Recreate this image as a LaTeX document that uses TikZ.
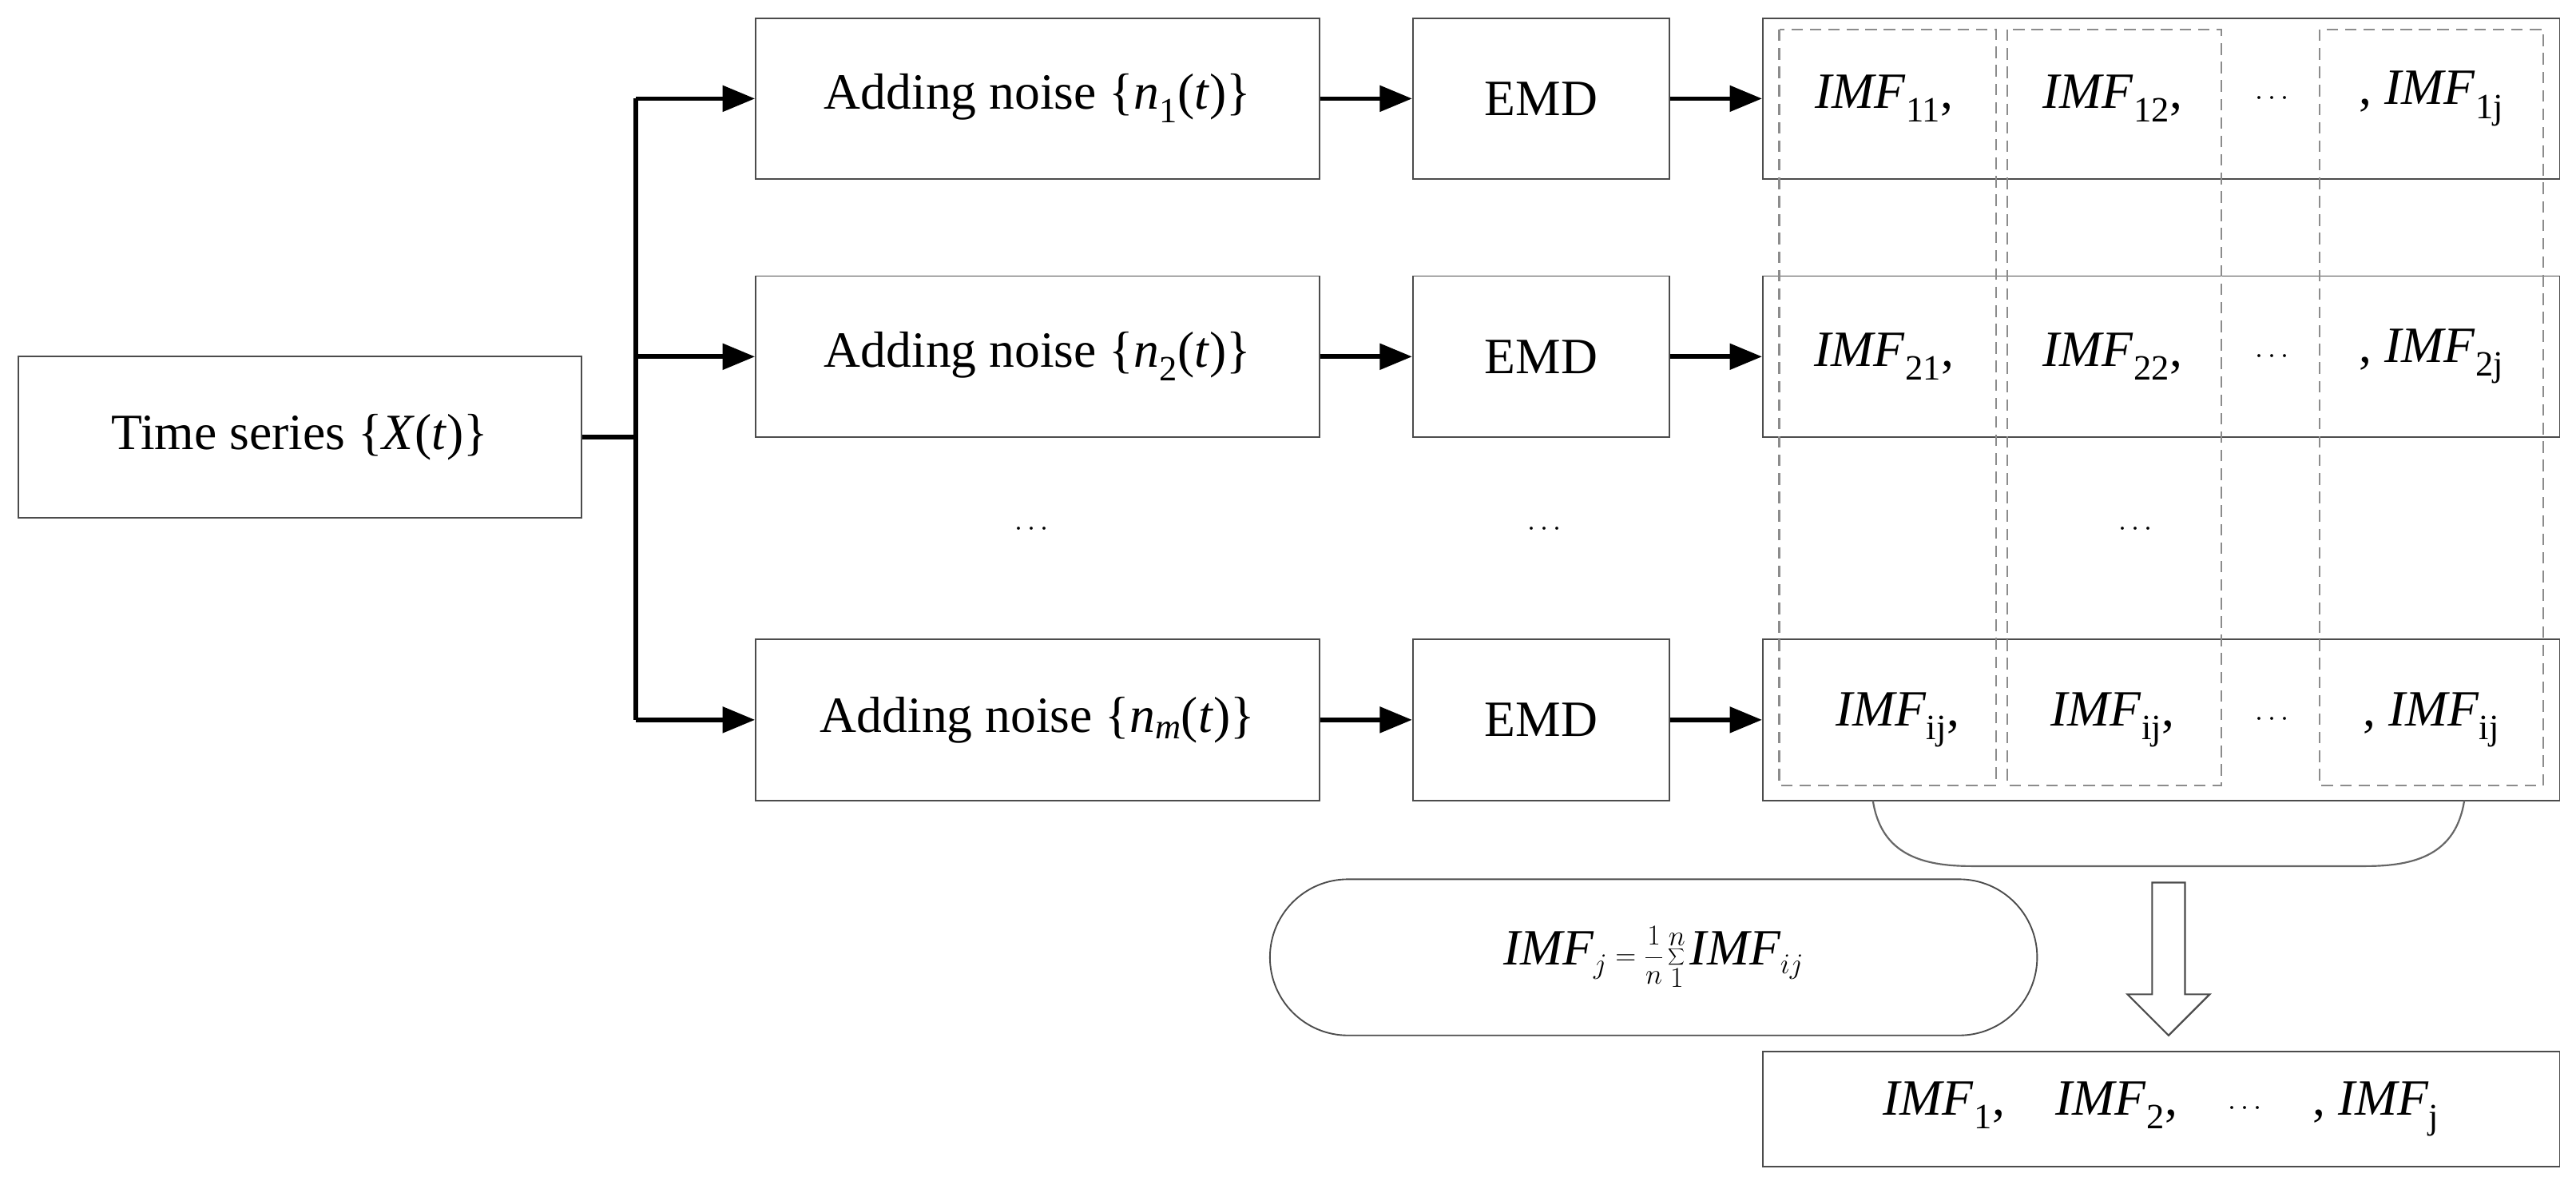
\documentclass[tikz,border=0pt]{standalone}
\usepackage{fontspec}
\setmainfont{Liberation Serif}
\usetikzlibrary{arrows.meta}
\begin{document}
\begin{tikzpicture}[x=0.05cm,y=-0.05cm,
  box/.style={draw=black!70,line width=1.3pt,inner sep=0,font=\fontsize{44}{52}\selectfont},
  arr/.style={line width=4pt,-{Triangle[length=28pt,width=22pt]}},
  dcol/.style={draw=black!45,line width=1.5pt,dash pattern=on 10pt off 6pt},
  txt/.style={font=\fontsize{44}{52}\selectfont}]
\useasboundingbox (0,0) rectangle (1568,721);
\newcommand\IMF[1]{\textit{IMF}\textsubscript{#1}}
% boxes
\node[box,minimum width=343*0.05cm,minimum height=98*0.05cm] (ts) at (182.5,266) {Time series \{\textit{X}(\textit{t})\}};
\foreach \r/\y/\s in {1/60/1,2/217/2,3/438/\textit{m}}{
  \node[box,minimum width=343*0.05cm,minimum height=98*0.05cm] (an\r) at (631.5,\y) {Adding noise \{\textit{n}\textsubscript{\s}(\textit{t})\}};
  \node[box,minimum width=156*0.05cm,minimum height=98*0.05cm] (emd\r) at (938,\y) {EMD};
  \node[box,minimum width=485*0.05cm,minimum height=98*0.05cm] (imf\r) at (1315.5,\y) {};
  \draw[arr] (an\r) -- (emd\r);
  \draw[arr] (emd\r) -- (imf\r);
}
\node[txt] at (1147,60) {\IMF{11},};
\node[txt] at (1286,60) {\IMF{12},};
\node[txt] at (1383,60) {$\cdots$};
\node[txt] at (1480,60) {, \IMF{1j}};
\node[txt] at (1147,217) {\IMF{21},};
\node[txt] at (1286,217) {\IMF{22},};
\node[txt] at (1383,217) {$\cdots$};
\node[txt] at (1480,217) {, \IMF{2j}};
\node[txt] at (1155,438) {\IMF{ij},};
\node[txt] at (1286,438) {\IMF{ij},};
\node[txt] at (1383,438) {$\cdots$};
\node[txt] at (1480,438) {, \IMF{ij}};
\node[txt] at (628,322) {$\cdots$};
\node[txt] at (940,322) {$\cdots$};
\node[txt] at (1300,322) {$\cdots$};
% dashed columns
\draw[dcol] (1083,18) rectangle (1215,478);
\draw[dcol] (1222,18) rectangle (1352,478);
\draw[dcol] (1412,18) rectangle (1548,478);
% tree
\coordinate (j) at (387,266);
\draw[line width=4pt] (ts.east) -- (j);
\draw[line width=4pt] (387,60) -- (387,438);
\draw[arr] (387,60) -- (an1);
\draw[arr] (387,217) -- (an2);
\draw[arr] (387,438) -- (an3);
% brace
\draw[black!60,line width=1.5pt] (1140,487) .. controls (1145,520) and (1170,527) .. (1200,527) -- (1440,527) .. controls (1470,527) and (1495,520) .. (1500,487);
% hollow arrow
\draw[black!70,line width=1.5pt] (1310,537) -- (1330,537) -- (1330,605) -- (1345,605) -- (1320,630) -- (1295,605) -- (1310,605) -- cycle;
% formula
\node[box,rounded corners=47.5*0.05cm,minimum width=467*0.05cm,minimum height=95*0.05cm] (f) at (1006.5,582.5) {$\displaystyle \mathit{IMF}_j=\frac{1}{n}\sum_{1}^{n}\mathit{IMF}_{ij}$};
% result
\node[box,minimum width=485*0.05cm,minimum height=70*0.05cm] (res) at (1315.5,675) {\IMF{1},\quad \IMF{2},\quad $\cdots$\quad, \IMF{j}};
\end{tikzpicture}
\end{document}
